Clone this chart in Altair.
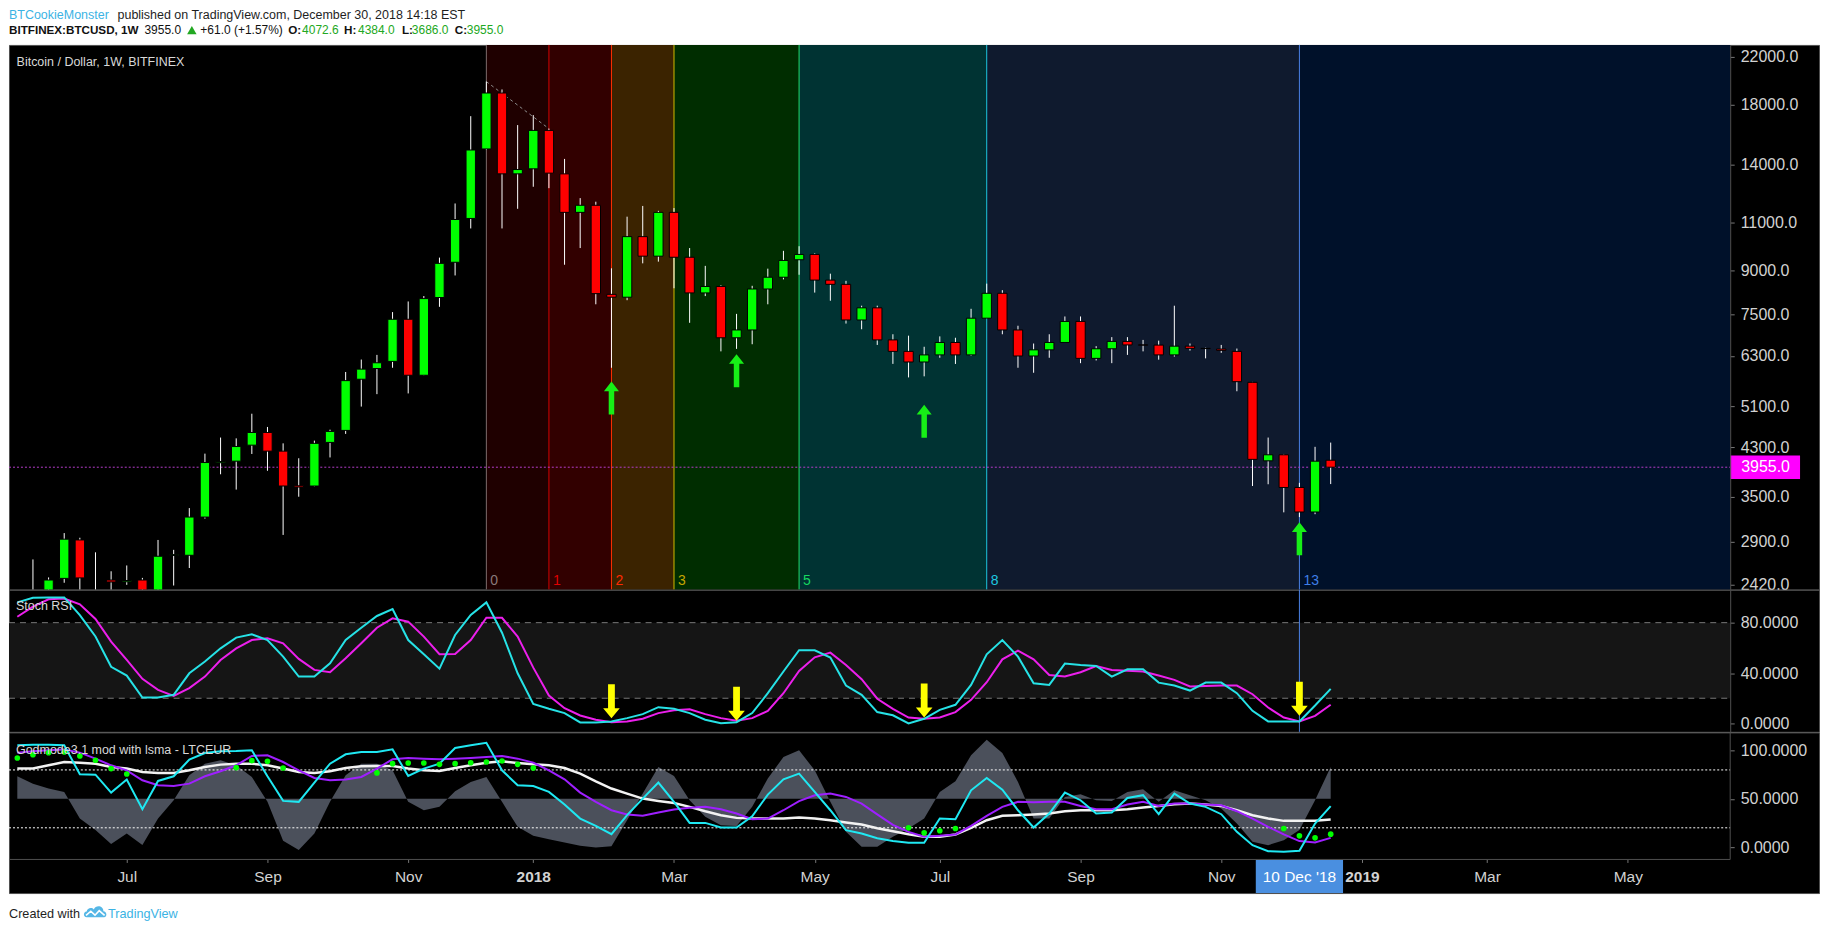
import altair as alt
import pandas as pd

# ---------------- data ----------------
# Weekly BITFINEX:BTCUSD candles; index 0 = week of 22 May 2017 ... index 83 = week of 24 Dec 2018
opens = [2080, 2200, 2485, 2918, 2350, 2468, 2450, 2468, 2330, 2735,
         2737, 3211, 4030, 4056, 4337, 4573, 4230, 3660, 3656, 4387,
         4613, 5713, 5975, 6156, 7341, 5809, 8040, 9316, 11189, 14960,
         18902, 13481, 13767, 16167, 13481, 11477, 11822, 8147, 8050, 10370,
         9556, 11477, 9513, 8195, 8420, 6794, 7020, 8331, 8751, 9414,
         9626, 8647, 8495, 7319, 7700, 6734, 6419, 6140, 6325, 6662,
         6325, 7374, 8183, 7020, 6296, 6460, 6662, 7275, 6234, 6489,
         6692, 6594, 6590, 6325, 6560, 6500, 6482, 6419, 5640, 4062,
         4166, 3634, 3280, 4072.6]
highs = [2690, 2495, 3003, 2945, 2771, 2560, 2623, 2490, 2918, 2800,
         3334, 4186, 4477, 4462, 4946, 4680, 4370, 4106, 4420, 4627,
         5889, 6203, 6325, 7564, 7908, 8090, 9499, 11911, 17158, 19826,
         19185, 16530, 17235, 16287, 14350, 12181, 12000, 9083, 11272, 11789,
         11550, 11684, 9886, 9177, 8460, 7508, 8443, 9070, 9772, 9962,
         9670, 8882, 8620, 7769, 7769, 6895, 6854, 6544, 6834, 6795,
         7669, 8520, 8290, 7145, 6633, 6895, 7427, 7427, 6560, 6813,
         6813, 6734, 6713, 7769, 6633, 6520, 6594, 6495, 5650, 4477,
         4180, 3705, 4307, 4384]
lows = [1900, 2100, 2440, 2300, 2250, 2300, 2419, 1900, 2300, 2412,
        2595, 3190, 3840, 3602, 4180, 3897, 2980, 3496, 3650, 4120,
        4546, 5096, 5368, 5994, 5384, 5800, 7733, 8816, 10731, 14895,
        10731, 11650, 12774, 12698, 9220, 9886, 7815, 5994, 7950, 9274,
        9340, 8357, 7233, 8088, 6419, 6486, 6613, 7815, 8672, 8842,
        8207, 7932, 7210, 7041, 6594, 6092, 5757, 5783, 6250, 6090,
        6300, 7360, 6895, 5994, 5870, 6250, 6650, 6110, 6180, 6110,
        6325, 6419, 6200, 6280, 6440, 6234, 6380, 5433, 3656, 3683,
        3275, 3211, 3250, 3686]
closes = [2200, 2468, 2928, 2490, 2330, 2448, 2463, 2330, 2726, 2745,
          3211, 4033, 4050, 4312, 4573, 4230, 3656, 3640, 4370, 4593,
          5680, 5960, 6120, 7341, 5809, 8003, 9274, 11139, 14895, 18902,
          13481, 13726, 16167, 13521, 11477, 11822, 8171, 8050, 10370, 9556,
          11477, 9513, 8195, 8420, 6794, 7020, 8331, 8751, 9387, 9626,
          8647, 8495, 7319, 7700, 6734, 6419, 6140, 6325, 6662, 6325,
          7374, 8183, 7020, 6296, 6460, 6662, 7275, 6234, 6489, 6692,
          6594, 6590, 6325, 6560, 6500, 6495, 6446, 5655, 4087, 4166,
          3634, 3280, 4056, 3955]

# indicator series start one week earlier (index -1)
stoch_k = [96.1, 99.8, 100, 100, 86, 69, 45, 38, 20.6, 20.6,
           22.7, 39.8, 49.1, 59.6, 68.1, 70.7, 66.2, 53.0, 37.2, 37.2,
           47.8, 66.3, 76.0, 85.3, 90.8, 66.2, 54.9, 43.5, 70.2, 86.1,
           96.1, 72.0, 39.8, 15.5, 11.6, 8.2, 0.8, 0.8, 1.6, 4.2,
           7.4, 12.9, 11.6, 8.2, 2.9, 0.2, 1.0, 8.2, 24.0, 41.2,
           58.1, 58.1, 52.3, 30.1, 22.7, 9.0, 6.5, 0.0, 3.7, 10.8,
           14.8, 30.6, 54.9, 66.2, 53.0, 31.9, 30.6, 47.5, 46.4, 45.6,
           37.2, 43.0, 43.0, 32.4, 30.1, 26.1, 32.4, 32.4, 24.0, 10.0,
           1.6, 1.6, 1.6, 14.2, 27.4]
stoch_d = [84.7, 92.7, 98.5, 99.2, 94.5, 82.9, 64.9, 50.4, 35.4, 26.6,
           21.9, 28.0, 37.2, 50.4, 59.6, 66.2, 67.6, 63.6, 51.2, 42.5,
           40.6, 51.7, 63.6, 76.0, 83.4, 80.8, 68.9, 54.9, 55.2, 66.2,
           83.9, 83.9, 68.9, 44.3, 22.1, 12.1, 6.3, 2.9, 1.0, 1.6,
           3.7, 8.2, 10.5, 11.3, 7.4, 4.2, 2.1, 4.2, 10.0, 24.0,
           41.7, 52.5, 56.2, 46.4, 35.1, 19.6, 11.6, 4.7, 3.7, 4.7,
           9.0, 18.7, 32.7, 50.9, 57.8, 50.9, 38.5, 37.2, 40.6, 45.6,
           42.5, 41.9, 41.2, 38.0, 34.6, 29.3, 29.8, 30.1, 30.1, 23.2,
           12.6, 4.7, 1.6, 6.0, 14.8]
stoch_levels = [20, 80]

gm_cyan = [105.5, 106.2, 106.2, 105.5, 75.5, 75.1, 56.5, 70.0, 39.3, 68.6,
           73.4, 90.7, 97.5, 99.3, 99.6, 100.3, 73.4, 47.9, 46.9, 66.9,
           86.5, 96.2, 98.6, 98.6, 101.3, 73.8, 81.4, 86.5, 102.7, 105.5,
           108.2, 79.6, 64.1, 63.4, 57.2, 44.1, 29.6, 22.0, 13.4, 33.1,
           50.3, 66.9, 46.9, 25.1, 25.1, 20.3, 20.3, 32.0, 54.4, 70.3,
           76.2, 57.2, 38.2, 17.6, 14.1, 9.2, 6.4, 4.4, 4.4, 29.6,
           28.9, 58.9, 71.7, 59.6, 38.2, 20.3, 34.8, 56.5, 48.6, 34.8,
           35.8, 51.0, 53.8, 34.1, 55.5, 45.1, 41.7, 34.1, 15.8, 2.0,
           -4.2, -4.9, -3.8, 24.4, 42.4]
gm_purple = [97.9, 99.3, 100.3, 101.3, 97.9, 91.7, 84.8, 79.6, 69.3, 64.1,
             63.4, 65.8, 73.4, 78.6, 84.8, 94.5, 95.1, 88.2, 79.6, 71.7,
             69.3, 70.0, 72.7, 81.4, 91.0, 92.4, 91.7, 91.0, 91.7, 92.4,
             93.4, 94.4, 91.7, 87.6, 79.6, 70.3, 56.5, 46.9, 38.2, 33.8,
             32.4, 35.8, 38.9, 40.7, 41.7, 39.3, 34.8, 28.9, 29.6, 38.2,
             47.6, 53.8, 55.5, 52.0, 45.1, 34.0, 23.0, 15.8, 10.7, 11.7,
             13.1, 22.0, 32.4, 41.7, 46.9, 46.5, 46.9, 46.9, 42.7, 39.3,
             39.3, 44.1, 46.9, 42.7, 45.1, 45.1, 44.1, 43.4, 37.2, 29.6,
             21.0, 13.1, 6.2, 4.8, 9.6]
gm_white = [81.4, 81.4, 84.8, 88.2, 87.5, 86.5, 83.1, 81.4, 77.9, 76.9,
            76.9, 79.6, 83.1, 85.5, 86.5, 86.5, 84.8, 81.4, 77.9, 76.9,
            78.6, 82.0, 83.8, 84.1, 84.1, 81.4, 79.6, 78.9, 82.0, 84.8,
            87.5, 88.9, 87.2, 85.8, 84.8, 82.0, 76.2, 68.2, 60.7, 55.5,
            50.3, 47.9, 45.8, 41.7, 37.2, 33.1, 30.3, 29.6, 29.6, 29.6,
            30.6, 29.6, 27.9, 25.5, 23.4, 19.6, 16.5, 13.4, 10.7, 10.7,
            13.1, 20.0, 27.9, 32.4, 33.1, 33.8, 34.8, 37.2, 38.2, 38.2,
            38.2, 39.3, 41.0, 42.7, 44.4, 45.1, 44.1, 42.7, 38.2, 33.1,
            29.6, 27.2, 27.2, 27.2, 28.6]
gm_area = [73.4, 65.8, 60.7, 57.2, 29.6, 17.6, 3.1, 14.1, 2.1, 29.6,
           48.6, 74.5, 86.5, 90.0, 84.8, 72.7, 46.9, 6.5, -3.1, 14.1,
           46.9, 74.5, 86.5, 86.5, 79.6, 46.9, 38.2, 41.7, 58.0, 67.6,
           72.7, 46.9, 21.0, 11.7, 8.2, 4.8, 1.3, -0.4, 1.0, 27.9,
           55.5, 83.1, 73.8, 48.6, 31.4, 22.7, 22.0, 41.7, 71.0, 93.4,
           100.3, 79.6, 46.9, 15.8, 0.3, 0.3, 10.7, 19.3, 29.6, 57.2,
           68.2, 95.1, 111.3, 97.6, 67.6, 29.6, 29.6, 52.0, 54.8, 48.6,
           47.9, 57.2, 60.0, 46.9, 58.9, 53.8, 48.6, 40.0, 24.4, 5.5,
           2.0, 7.2, 17.6, 48.6, 83.1]
gm_area_base = 50
gm_levels = [20, 80]
dot_idx = [-1, 0, 1, 2, 3, 4, 5, 6, 13, 14, 15, 16, 22, 23, 24, 25, 26, 27, 28, 29, 30, 31, 32,
           56, 57, 58, 59, 80, 81, 82, 83]
dot_val = [92.4, 95.8, 97.9, 98.6, 94.4, 90.0, 81.4, 75.8, 82.4, 89.6, 88.9, 82.0,
           76.9, 86.5, 87.2, 87.2, 85.8, 86.5, 87.5, 88.2, 89.3, 85.8, 82.0,
           20.0, 14.8, 16.9, 19.3, 19.3, 11.7, 9.6, 13.4]

# signals
buy_idx = [37, 45, 57, 81]
buy_tip_price = [5658, 6343, 5133, 3141]
stoch_arrow_tip = [4.2, 2.1, 4.7, 6.1]

# Fibonacci time zones
fib_idx = [29, 33, 37, 41, 49, 61, 81]
fib_labels = ["0", "1", "2", "3", "5", "8", "13"]
fib_line_colors = ["#7d6b6b", "#d40000", "#ff3000", "#d2bd00", "#1fe070", "#1ec8e0", "#4a82e6"]
fib_label_colors = ["#8a7a7a", "#e00000", "#ff2a00", "#c4a600", "#16d860", "#1ec8e0", "#3f7fe8"]
band_colors = ["#1f0000", "#320000", "#3b2300", "#002d00", "#003333", "#0f1a2e", "#00112a"]
trend_idx = [29, 33]
trend_price = [19826, 16287]

price_ticks = [2420, 2900, 3500, 4300, 5100, 6300, 7500, 9000, 11000, 14000, 18000, 22000]
last_price = 3955.0
header_ohlc = [4072.6, 4384.0, 3686.0, 3955.0]
change_abs, change_pct = 61.0, 1.57
month_tick_idx = [6, 15, 24, 32, 41, 50, 58, 67, 76, 85, 93, 102]
month_labels = ["Jul", "Sep", "Nov", "2018", "Mar", "May", "Jul", "Sep", "Nov", "2019", "Mar", "May"]
bold_labels = ["2018", "2019"]
crosshair_idx = 81
crosshair_label = "10 Dec '18"

# ---------------- layout ----------------
FONT = "Liberation Sans"
PAGE_LEFT, PAGE_RIGHT, PLOT_RIGHT_PX = 8, 1822, 1733
CANDLE0_PX, PX_PER_WEEK = 32.0, 15.67
W = PAGE_RIGHT - PAGE_LEFT
X_MIN = (PAGE_LEFT - CANDLE0_PX) / PX_PER_WEEK
X_MAX = (PAGE_RIGHT - CANDLE0_PX) / PX_PER_WEEK
PLOT_RIGHT = (PLOT_RIGHT_PX - CANDLE0_PX) / PX_PER_WEEK
AX_OFF = PLOT_RIGHT_PX - PAGE_RIGHT
H_HEAD, H_MAIN, H_STOCH, H_GM, H_FOOT = 35.6, 545.7, 142.4, 161.0, 30
MAIN_DOMAIN = [2372.9, 23110]
STOCH_DOMAIN = [-6.65, 106.14]
GM_DOMAIN = [-47.65, 118.9]
GM_FLOOR = -12.8
GM_XAXIS_OFF = -33.7
BOX_HALF = 2.79
BORDER = "#4f4f4f"
AXIS_TXT = "#d2d2d2"
GREEN_ARROW = "M0,0L0.456,0.584L0.167,0.584L0.167,2L-0.167,2L-0.167,0.584L-0.456,0.584Z"
YELLOW_ARROW = "M0,0L0.49,-0.59L0.2,-0.59L0.2,-2L-0.2,-2L-0.2,-0.59L-0.49,-0.59Z"
TAG_RECT = "M0,-0.337L2,-0.337L2,0.337L0,0.337Z"
CLOUD = ("M-0.75,0.45C-1.05,0.45 -1.05,0.0 -0.75,-0.02C-0.7,-0.35 -0.3,-0.4 -0.15,-0.2"
         "C0.0,-0.6 0.65,-0.55 0.65,-0.05C0.95,-0.05 1.0,0.45 0.7,0.45Z")
ZIGZAG = "M-0.8,0.3L-0.4,-0.05L-0.05,0.28L0.3,-0.1L0.75,0.3"

dummy = pd.DataFrame({"a": [0]})
xs = alt.Scale(domain=[X_MIN, X_MAX], nice=False, zero=False)


def yaxis(values, fmt):
    return alt.Axis(orient="right", offset=AX_OFF, values=values, format=fmt, title=None, grid=False,
                    labelColor=AXIS_TXT, labelFontSize=16, labelFont=FONT, labelPadding=6,
                    labelOverlap=False, labelBound=False, labelFlush=False,
                    tickColor="#777777", tickSize=4, domainColor=BORDER, zindex=1)


# ---------------- main price pane ----------------
ys_main = alt.Scale(type="log", domain=MAIN_DOMAIN, nice=False)
main_axis = yaxis(price_ticks, ".1f")


def Xm(f):
    return alt.X(f, type="quantitative", scale=xs, axis=None)


def Ym(f):
    return alt.Y(f, type="quantitative", scale=ys_main, axis=main_axis)


XDm = lambda v: alt.XDatum(v, type="quantitative", scale=xs, axis=None)
YDm = lambda v: alt.YDatum(v, type="quantitative", scale=ys_main, axis=main_axis)

cand = pd.DataFrame({"week": list(range(len(opens))), "open": opens, "high": highs,
                     "low": lows, "close": closes})
band_df = pd.DataFrame({"start": fib_idx, "end": fib_idx[1:] + [PLOT_RIGHT], "color": band_colors})
fib_df = pd.DataFrame({"week": fib_idx, "label": fib_labels, "color": fib_line_colors,
                       "lcolor": fib_label_colors})
trend_df = pd.DataFrame({"x": [trend_idx[0]], "x2": [trend_idx[1]],
                         "y": [trend_price[0]], "y2": [trend_price[1]]})
buy_df = pd.DataFrame({"week": buy_idx, "tip": buy_tip_price})

bands = alt.Chart(band_df).mark_rect().encode(
    x=Xm("start"), x2="end", y=alt.value(0), y2=alt.value(H_MAIN),
    color=alt.Color("color:N", scale=None))
fib_rules = alt.Chart(fib_df).mark_rule(strokeWidth=1).encode(
    x=Xm("week"), color=alt.Color("color:N", scale=None))
fib_text = alt.Chart(fib_df).mark_text(align="left", baseline="middle", dx=4, fontSize=14, font=FONT).encode(
    x=Xm("week"), y=alt.value(537.5), text="label:N", color=alt.Color("lcolor:N", scale=None))
price_line = alt.Chart(dummy).mark_rule(color="#b43cc8", strokeDash=[2, 2], strokeWidth=1).encode(
    x=XDm(X_MIN), x2=alt.X2Datum(PLOT_RIGHT), y=YDm(last_price))
trend = alt.Chart(trend_df).mark_rule(color="#8d8d8d", strokeDash=[3, 3], strokeWidth=1).encode(
    x=Xm("x"), x2="x2", y=Ym("y"), y2="y2")
wicks = alt.Chart(cand).mark_rule(color="white", strokeWidth=1, clip=True).encode(
    x=Xm("week"), y=Ym("low"), y2="high")
bodies = alt.Chart(cand).transform_calculate(
    x_lo="datum.week - 0.3", x_hi="datum.week + 0.3"
).mark_rect(stroke="black", strokeWidth=1, clip=True).encode(
    x=Xm("x_lo"), x2="x_hi", y=Ym("open"), y2="close",
    color=alt.condition("datum.close >= datum.open", alt.value("#00ff00"), alt.value("#ff0000")))
buy_arrows = alt.Chart(buy_df).mark_point(shape=GREEN_ARROW, size=1089, filled=True, color="#17ef17",
                                          opacity=1, strokeWidth=0).encode(x=Xm("week"), y=Ym("tip"))
main_title = alt.Chart(dummy).mark_text(text="Bitcoin / Dollar, 1W, BITFINEX", align="left", baseline="middle",
                                        fontSize=12.5, font=FONT, color="#d8d8d8").encode(
    x=alt.value(7.6), y=alt.value(17.4))
price_tag = alt.Chart(dummy).mark_point(shape=TAG_RECT, size=4900, filled=True, color="#ff00ff",
                                        opacity=1, strokeWidth=0).encode(x=XDm(PLOT_RIGHT), y=YDm(last_price))
price_tag_text = alt.Chart(dummy).mark_text(text=f"{last_price:.1f}", align="left", baseline="middle", dx=11,
                                            fontSize=16, font=FONT, color="white").encode(
    x=XDm(PLOT_RIGHT), y=YDm(last_price))

main = alt.layer(bands, fib_rules, fib_text, price_line, trend, wicks, bodies, buy_arrows,
                 main_title, price_tag, price_tag_text).properties(
    width=W, height=H_MAIN, view=alt.ViewBackground(fill="black", stroke=BORDER, strokeWidth=1))

# ---------------- Stoch RSI pane ----------------
ys_st = alt.Scale(domain=STOCH_DOMAIN, nice=False, zero=False)
st_axis = yaxis([0, 40, 80], ".4f")
Ys = lambda f: alt.Y(f, type="quantitative", scale=ys_st, axis=st_axis)
YDs = lambda v: alt.YDatum(v, type="quantitative", scale=ys_st, axis=st_axis)

stoch_df = pd.DataFrame({"week": list(range(-1, -1 + len(stoch_k))), "k": stoch_k, "d": stoch_d})
st_lv = pd.DataFrame({"lvl": stoch_levels})
st_arr = pd.DataFrame({"week": buy_idx, "tip": stoch_arrow_tip})

st_band = alt.Chart(dummy).mark_rect(color="#151515").encode(
    x=XDm(X_MIN), x2=alt.X2Datum(PLOT_RIGHT), y=YDs(stoch_levels[0]), y2=alt.Y2Datum(stoch_levels[1]))
st_rules = alt.Chart(st_lv).mark_rule(color="#787878", strokeDash=[6, 5], strokeWidth=1).encode(
    x=XDm(X_MIN), x2=alt.X2Datum(PLOT_RIGHT), y=Ys("lvl"))
st_cross = alt.Chart(dummy).mark_rule(color="#4a82e6", strokeWidth=1).encode(x=XDm(crosshair_idx))
st_d = alt.Chart(stoch_df).mark_line(color="#ec1fec", strokeWidth=2).encode(x=Xm("week"), y=Ys("d"))
st_k = alt.Chart(stoch_df).mark_line(color="#26e2e6", strokeWidth=2).encode(x=Xm("week"), y=Ys("k"))
st_arrows = alt.Chart(st_arr).mark_point(shape=YELLOW_ARROW, size=1156, filled=True, color="#ffff00",
                                         opacity=1, strokeWidth=0).encode(x=Xm("week"), y=Ys("tip"))
st_title = alt.Chart(dummy).mark_text(text="Stoch RSI", align="left", baseline="middle", fontSize=12.5,
                                      font=FONT, color="#d8d8d8").encode(x=alt.value(7), y=alt.value(16.7))

stoch = alt.layer(st_band, st_rules, st_cross, st_d, st_k, st_arrows, st_title).properties(
    width=W, height=H_STOCH, view=alt.ViewBackground(fill="black", stroke=BORDER, strokeWidth=1))

# ---------------- Godmode pane (with the time axis) ----------------
ys_gm = alt.Scale(domain=GM_DOMAIN, nice=False, zero=False)
gm_axis = alt.Axis(orient="right", offset=AX_OFF, values=[0, 50, 100], format=".4f", title=None, grid=False,
                   labelColor=AXIS_TXT, labelFontSize=16, labelFont=FONT, labelPadding=6,
                   labelOverlap=False, labelBound=False, labelFlush=False,
                   tickColor="#777777", tickSize=4, domain=False, zindex=1)
label_expr = ("[" + ",".join(f"'{m}'" for m in month_labels) + "][indexof(["
              + ",".join(str(v) for v in month_tick_idx) + "], datum.value)]")
bold_test = " || ".join(f"datum.value == {month_tick_idx[month_labels.index(b)]}" for b in bold_labels)
x_axis = alt.Axis(orient="bottom", offset=GM_XAXIS_OFF, values=month_tick_idx, labelExpr=label_expr,
                  title=None, grid=False, domain=False, labelColor=AXIS_TXT, labelFontSize=15.5,
                  labelFont=FONT, labelPadding=7, labelOverlap=False, labelFlush=False, labelBound=False,
                  tickColor="#777777", tickSize=3,
                  labelFontWeight={"condition": {"test": bold_test, "value": "bold"}, "value": "normal"})
Xg = lambda f: alt.X(f, type="quantitative", scale=xs, axis=x_axis)
XDg = lambda v: alt.XDatum(v, type="quantitative", scale=xs, axis=x_axis)
Yg = lambda f: alt.Y(f, type="quantitative", scale=ys_gm, axis=gm_axis)
YDg = lambda v: alt.YDatum(v, type="quantitative", scale=ys_gm, axis=gm_axis)

gm_df = pd.DataFrame({"week": list(range(-1, -1 + len(gm_cyan))), "cyan": gm_cyan, "purple": gm_purple,
                      "white": gm_white, "area": gm_area})
dots_df = pd.DataFrame({"week": dot_idx, "v": dot_val})
gm_lv = pd.DataFrame({"lvl": gm_levels})

gm_fill = alt.Chart(gm_df).mark_area(color="#4b505b", opacity=1).encode(
    x=Xg("week"), y=Yg("area"), y2=alt.Y2Datum(gm_area_base))
gm_rules = alt.Chart(gm_lv).mark_rule(color="white", strokeDash=[2, 2], strokeWidth=1).encode(
    x=XDg(X_MIN), x2=alt.X2Datum(PLOT_RIGHT), y=Yg("lvl"))
gm_w = alt.Chart(gm_df).mark_line(color="#f2f2f2", strokeWidth=2.5).encode(x=Xg("week"), y=Yg("white"))
gm_p = alt.Chart(gm_df).mark_line(color="#9e1fff", strokeWidth=2).encode(x=Xg("week"), y=Yg("purple"))
gm_c = alt.Chart(gm_df).mark_line(color="#1fe8f2", strokeWidth=2).encode(x=Xg("week"), y=Yg("cyan"))
gm_dots = alt.Chart(dots_df).mark_point(shape="circle", size=32, filled=True, color="#00ff00",
                                        opacity=1).encode(x=Xg("week"), y=Yg("v"))
gm_vsep = alt.Chart(dummy).mark_rule(color=BORDER, strokeWidth=1).encode(
    x=XDg(PLOT_RIGHT), y=YDg(GM_FLOOR), y2=alt.value(0))
gm_hsep = alt.Chart(dummy).mark_rule(color=BORDER, strokeWidth=1).encode(
    x=XDg(X_MIN), x2=alt.X2Datum(PLOT_RIGHT), y=YDg(GM_FLOOR))
cross_box = alt.Chart(dummy).mark_rect(color="#4a8fe0").encode(
    x=XDg(crosshair_idx - BOX_HALF), x2=alt.X2Datum(crosshair_idx + BOX_HALF),
    y=YDg(GM_FLOOR - 0.7), y2=alt.Y2Datum(GM_DOMAIN[0]))
cross_text = alt.Chart(dummy).mark_text(text=crosshair_label, align="center", baseline="middle",
                                        fontSize=15.5, font=FONT, color="white").encode(
    x=XDg(crosshair_idx), y=YDg(-31.4))
gm_title = alt.Chart(dummy).mark_text(text="Godmode3.1 mod with lsma - LTCEUR", align="left",
                                      baseline="middle", fontSize=12.5, font=FONT, color="#d8d8d8").encode(
    x=alt.value(7), y=alt.value(17.3))

godmode = alt.layer(gm_fill, gm_rules, gm_w, gm_p, gm_c, gm_dots, gm_vsep, gm_hsep,
                    cross_box, cross_text, gm_title).properties(
    width=W, height=H_GM, view=alt.ViewBackground(fill="black", stroke=BORDER, strokeWidth=1))

# ---------------- header & footer ----------------
GREEN_TXT = "#22a822"


def txt(s, x, y, size=12, color="#1e1e1e", weight="normal", baseline="alphabetic"):
    return alt.Chart(dummy).mark_text(text=s, align="left", baseline=baseline, fontSize=size,
                                      font=FONT, color=color, fontWeight=weight).encode(
        x=alt.value(x), y=alt.value(y))


o, h, l, c = header_ohlc
header = alt.layer(
    txt("BTCookieMonster", 0, 0, 12.5, "#3bb3e4", baseline="top"),
    txt("published on TradingView.com, December 30, 2018 14:18 EST", 108.75, 0, 12.5, baseline="top"),
    txt("BITFINEX:BTCUSD, 1W", 0, 25, 11.7, "#111111", "bold"),
    txt(f"{c:.1f}", 135.75, 25, 12, "#111111"),
    alt.Chart(dummy).mark_point(shape="triangle-up", size=90, filled=True, color=GREEN_TXT, opacity=1).encode(
        x=alt.value(183.25), y=alt.value(21.2)),
    txt(f"+{change_abs:.1f} (+{change_pct:.2f}%)", 191.75, 25, 12, "#111111"),
    txt("O:", 279.75, 25, 11.7, "#111111", "bold"), txt(f"{o:.1f}", 293.75, 25, 12, GREEN_TXT),
    txt("H:", 335.75, 25, 11.7, "#111111", "bold"), txt(f"{h:.1f}", 349.75, 25, 12, GREEN_TXT),
    txt("L:", 393.75, 25, 11.7, "#111111", "bold"), txt(f"{l:.1f}", 403.75, 25, 12, GREEN_TXT),
    txt("C:", 446.75, 25, 11.7, "#111111", "bold"), txt(f"{c:.1f}", 458.75, 25, 12, GREEN_TXT),
).properties(width=W, height=H_HEAD)

footer = alt.layer(
    txt("Created with", 0, 25.3, 12.7),
    alt.Chart(dummy).mark_point(shape=CLOUD, size=576, filled=True, color="#56b7e6", opacity=1,
                                strokeWidth=0).encode(x=alt.value(86.8), y=alt.value(18.8)),
    alt.Chart(dummy).mark_point(shape=ZIGZAG, size=576, filled=False, color="white", opacity=1,
                                strokeWidth=1.6).encode(x=alt.value(86.8), y=alt.value(18.8)),
    txt("TradingView", 99.3, 25.3, 12.7, "#3bb3e4"),
).properties(width=W, height=H_FOOT)

chart = alt.vconcat(header, main, stoch, godmode, footer, spacing=0, bounds="flush", padding=0).resolve_scale(
    x="independent", y="independent", color="independent"
).configure(background="white", font=FONT).configure_view(stroke=None).configure_concat(spacing=0)

chart.save("out.html", embed_options={"renderer": "svg", "actions": False})
